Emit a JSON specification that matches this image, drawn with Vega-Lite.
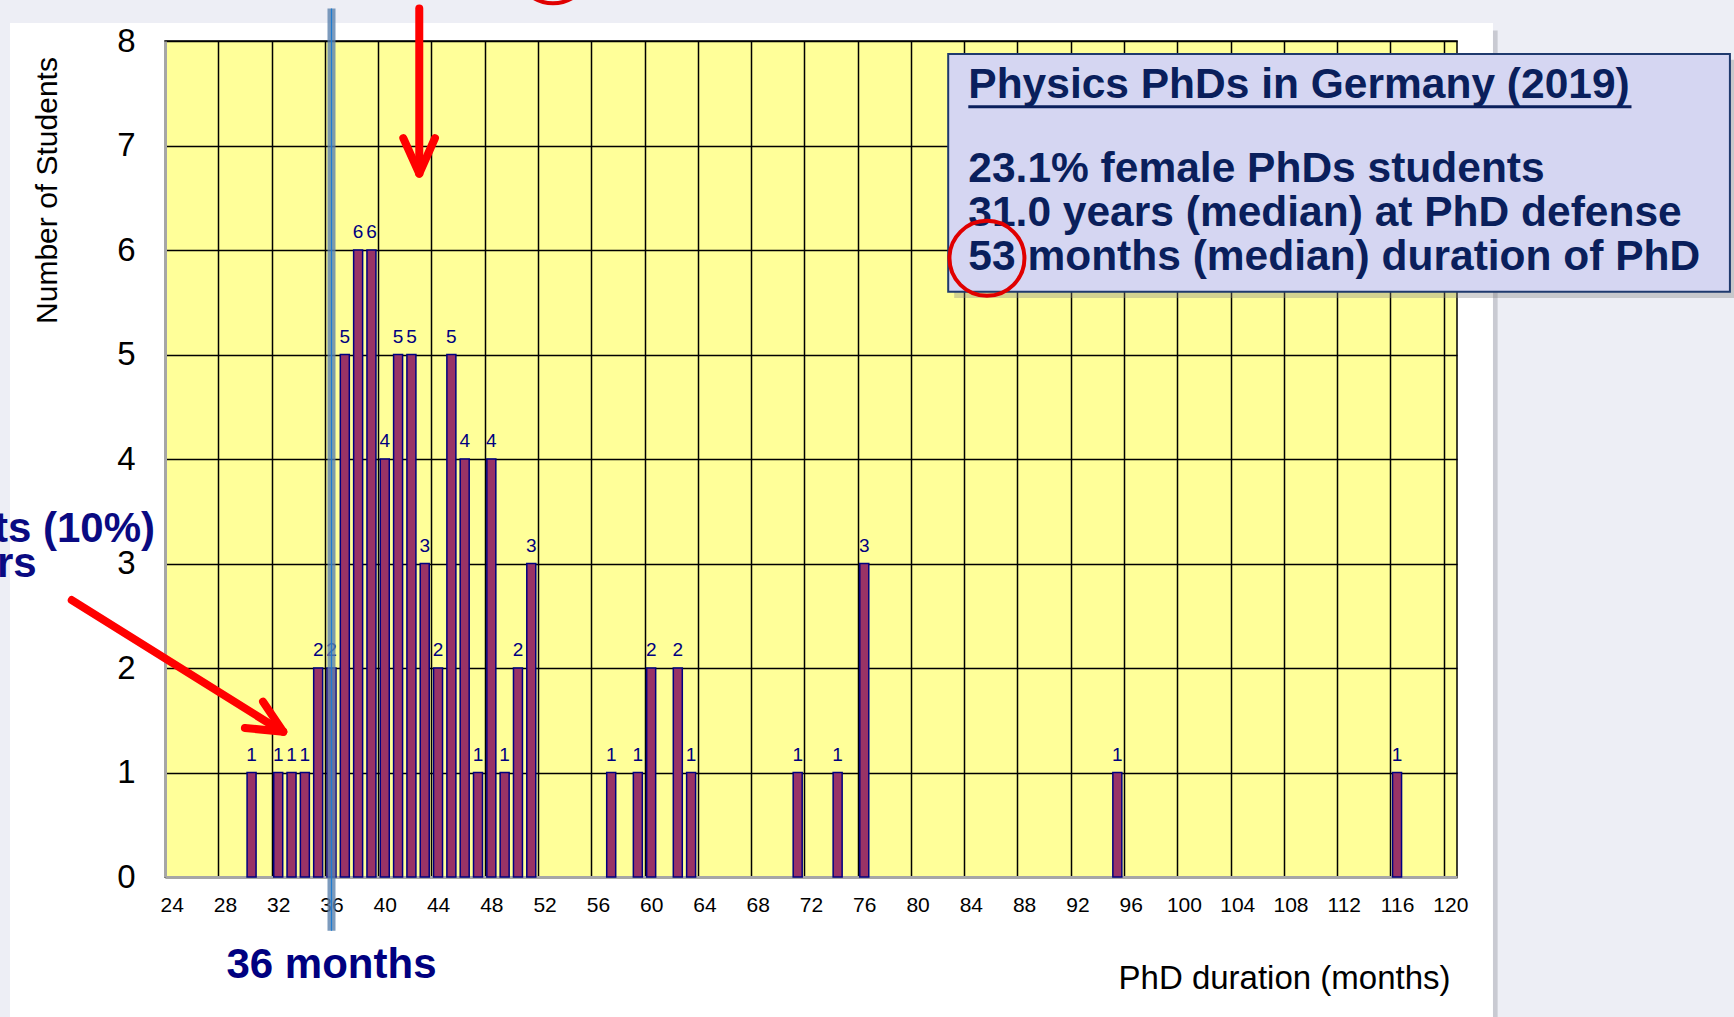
{
  "$schema": "https://vega.github.io/schema/vega-lite/v6.json",
  "width": 1292,
  "height": 836,
  "autosize": {"type": "none"},
  "padding": {"left": 165, "top": 41, "right": 277, "bottom": 140},
  "background": "#FFFFFF",
  "config": {
    "font": "Liberation Sans",
    "view": {"fill": "#FFFF99", "stroke": "#000000", "strokeWidth": 1.5}
  },
  "data": {
    "values": [
      {"month": 30, "count": 1},
      {"month": 32, "count": 1},
      {"month": 33, "count": 1},
      {"month": 34, "count": 1},
      {"month": 35, "count": 2},
      {"month": 36, "count": 2},
      {"month": 37, "count": 5},
      {"month": 38, "count": 6},
      {"month": 39, "count": 6},
      {"month": 40, "count": 4},
      {"month": 41, "count": 5},
      {"month": 42, "count": 5},
      {"month": 43, "count": 3},
      {"month": 44, "count": 2},
      {"month": 45, "count": 5},
      {"month": 46, "count": 4},
      {"month": 47, "count": 1},
      {"month": 48, "count": 4},
      {"month": 49, "count": 1},
      {"month": 50, "count": 2},
      {"month": 51, "count": 3},
      {"month": 57, "count": 1},
      {"month": 59, "count": 1},
      {"month": 60, "count": 2},
      {"month": 62, "count": 2},
      {"month": 63, "count": 1},
      {"month": 71, "count": 1},
      {"month": 74, "count": 1},
      {"month": 76, "count": 3},
      {"month": 95, "count": 1},
      {"month": 116, "count": 1}
    ]
  },
  "layer": [
    {
      "data": {"values": [{}]},
      "mark": {"type": "rect", "fill": "#EDEEF5"},
      "encoding": {"x": {"datum": -20}, "x2": {"datum": 11.86}, "y": {"datum": -2}, "y2": {"datum": 9}}
    },
    {
      "data": {"values": [{}]},
      "mark": {"type": "rect", "fill": "#EDEEF5"},
      "encoding": {"x": {"datum": -20}, "x2": {"datum": 150}, "y": {"datum": 8.172}, "y2": {"datum": 9}}
    },
    {
      "data": {"values": [{}]},
      "mark": {"type": "rect", "fill": "#EDEEF5"},
      "encoding": {"x": {"datum": 123.2}, "x2": {"datum": 150}, "y": {"datum": -2}, "y2": {"datum": 9}}
    },
    {
      "data": {"values": [{}]},
      "mark": {"type": "rect", "fill": "#C9CAD2"},
      "encoding": {"x": {"datum": 123.2}, "x2": {"datum": 123.55}, "y": {"datum": -2}, "y2": {"datum": 8.1}}
    },
    {
      "mark": {"type": "bar", "size": 9, "fill": "#993366", "stroke": "#000080", "strokeWidth": 1.5},
      "encoding": {
        "x": {
          "field": "month",
          "type": "quantitative",
          "scale": {"domain": [23.5, 120.5], "nice": false, "zero": false, "padding": 0},
          "axis": {
            "values": [23.5, 27.5, 31.5, 35.5, 39.5, 43.5, 47.5, 51.5, 55.5, 59.5, 63.5, 67.5, 71.5, 75.5, 79.5, 83.5, 87.5, 91.5, 95.5, 99.5, 103.5, 107.5, 111.5, 115.5, 119.5],
            "labelExpr": "format(datum.value + 0.5, 'd')",
            "labelOffset": 6.66,
            "labelFlush": false,
            "labelOverlap": false,
            "labelBound": false,
            "labelPadding": 17,
            "labelFontSize": 21,
            "labelColor": "#000000",
            "ticks": false,
            "grid": true,
            "gridColor": "#000000",
            "gridWidth": 1.5,
            "gridOpacity": 1,
            "domainColor": "#A6A6A6",
            "domainWidth": 3,
            "title": "PhD duration (months)",
            "titleFontSize": 33,
            "titleFontWeight": "normal",
            "titleColor": "#000000",
            "titleX": 1285,
            "titleY": 111,
            "titleAlign": "right",
            "titleBaseline": "alphabetic"
          }
        },
        "y": {
          "field": "count",
          "type": "quantitative",
          "scale": {"domain": [0, 8], "nice": false, "padding": 0},
          "axis": {
            "values": [0, 1, 2, 3, 4, 5, 6, 7, 8],
            "format": "d",
            "labelFontSize": 33,
            "labelColor": "#000000",
            "labelPadding": 30,
            "labelFlush": false,
            "ticks": false,
            "grid": true,
            "gridColor": "#000000",
            "gridWidth": 1.5,
            "gridOpacity": 1,
            "domainColor": "#A6A6A6",
            "domainWidth": 3,
            "title": "Number of Students",
            "titleFontSize": 30,
            "titleFontWeight": "normal",
            "titleColor": "#000000",
            "titleX": -117.5,
            "titleY": 149,
            "titleAngle": -90,
            "titleAlign": "center",
            "titleBaseline": "middle"
          }
        }
      }
    },
    {
      "mark": {"type": "text", "fontSize": 19, "color": "#000080", "baseline": "alphabetic", "dy": -12},
      "encoding": {
        "x": {"field": "month", "type": "quantitative"},
        "y": {"field": "count", "type": "quantitative"},
        "text": {"field": "count", "type": "quantitative"}
      }
    },
    {
      "data": {"values": [{}]},
      "mark": {"type": "rule", "color": "#5C82AD", "strokeWidth": 8, "opacity": 0.8},
      "encoding": {"x": {"datum": 36}, "y": {"datum": -0.514}, "y2": {"datum": 8.31}}
    },
    {
      "data": {"values": [{}]},
      "mark": {"type": "rule", "color": "#1E7BD0", "strokeWidth": 1.2},
      "encoding": {"x": {"datum": 36}, "y": {"datum": -0.514}, "y2": {"datum": 8.31}}
    },
    {
      "data": {"values": [{}]},
      "mark": {"type": "rule", "color": "#FF0000", "strokeWidth": 8, "strokeCap": "round"},
      "encoding": {"x": {"datum": 42.59}, "x2": {"datum": 42.59}, "y": {"datum": 8.31}, "y2": {"datum": 6.76}}
    },
    {
      "data": {"values": [{}]},
      "mark": {"type": "rule", "color": "#FF0000", "strokeWidth": 8, "strokeCap": "round"},
      "encoding": {"x": {"datum": 41.39}, "x2": {"datum": 42.59}, "y": {"datum": 7.07}, "y2": {"datum": 6.73}}
    },
    {
      "data": {"values": [{}]},
      "mark": {"type": "rule", "color": "#FF0000", "strokeWidth": 8, "strokeCap": "round"},
      "encoding": {"x": {"datum": 43.77}, "x2": {"datum": 42.59}, "y": {"datum": 7.07}, "y2": {"datum": 6.73}}
    },
    {
      "data": {"values": [{}]},
      "mark": {"type": "rule", "color": "#FF0000", "strokeWidth": 8, "strokeCap": "round"},
      "encoding": {"x": {"datum": 16.5}, "x2": {"datum": 32.2}, "y": {"datum": 2.65}, "y2": {"datum": 1.40}}
    },
    {
      "data": {"values": [{}]},
      "mark": {"type": "rule", "color": "#FF0000", "strokeWidth": 8, "strokeCap": "round"},
      "encoding": {"x": {"datum": 29.5}, "x2": {"datum": 32.38}, "y": {"datum": 1.426}, "y2": {"datum": 1.39}}
    },
    {
      "data": {"values": [{}]},
      "mark": {"type": "rule", "color": "#FF0000", "strokeWidth": 8, "strokeCap": "round"},
      "encoding": {"x": {"datum": 30.86}, "x2": {"datum": 32.38}, "y": {"datum": 1.678}, "y2": {"datum": 1.39}}
    },
    {
      "data": {"values": [{}]},
      "mark": {"type": "rect", "fill": "#808080", "opacity": 0.35},
      "encoding": {"x": {"datum": 82.75}, "x2": {"datum": 141.5}, "y": {"datum": 7.82}, "y2": {"datum": 5.54}}
    },
    {
      "data": {"values": [{}]},
      "mark": {"type": "rect", "fill": "#D5D6F2", "stroke": "#1F3A6E", "strokeWidth": 2},
      "encoding": {"x": {"datum": 82.3}, "x2": {"datum": 140.99}, "y": {"datum": 7.876}, "y2": {"datum": 5.601}}
    },
    {
      "data": {"values": [{}]},
      "mark": {
        "type": "text",
        "align": "left",
        "baseline": "alphabetic",
        "fontSize": 42.5,
        "fontWeight": "bold",
        "color": "#0A1F5C",
        "text": "Physics PhDs in Germany (2019)"
      },
      "encoding": {"x": {"datum": 83.81}, "y": {"datum": 7.453}}
    },
    {
      "data": {"values": [{}]},
      "mark": {
        "type": "text",
        "align": "left",
        "baseline": "alphabetic",
        "fontSize": 42.5,
        "fontWeight": "bold",
        "color": "#0A1F5C",
        "lineHeight": 44,
        "text": ["23.1% female PhDs students", "31.0 years (median) at PhD defense", "53 months (median) duration of PhD"]
      },
      "encoding": {"x": {"datum": 83.81}, "y": {"datum": 6.654}}
    },
    {
      "data": {"values": [{}]},
      "mark": {"type": "rule", "color": "#0A1F5C", "strokeWidth": 3},
      "encoding": {"x": {"datum": 83.81}, "x2": {"datum": 133.6}, "y": {"datum": 7.371}, "y2": {"datum": 7.371}}
    },
    {
      "data": {"values": [{}]},
      "mark": {"type": "point", "shape": "circle", "filled": false, "size": 5625, "stroke": "#E00000", "strokeWidth": 4, "opacity": 1},
      "encoding": {"x": {"datum": 85.21}, "y": {"datum": 5.92}}
    },
    {
      "data": {"values": [{}]},
      "mark": {"type": "point", "shape": "circle", "filled": false, "size": 5625, "stroke": "#E00000", "strokeWidth": 4, "opacity": 1},
      "encoding": {"x": {"datum": 52.63}, "y": {"datum": 8.72}}
    },
    {
      "data": {"values": [{}]},
      "mark": {"type": "text", "align": "center", "baseline": "alphabetic", "fontSize": 42, "fontWeight": "bold", "color": "#000080", "text": "36 months"},
      "encoding": {"x": {"datum": 36}, "y": {"datum": -0.969}}
    },
    {
      "data": {"values": [{}]},
      "mark": {"type": "text", "align": "right", "baseline": "alphabetic", "fontSize": 42, "fontWeight": "bold", "color": "#0A0A82", "text": "ts (10%)"},
      "encoding": {"x": {"datum": 22.75}, "y": {"datum": 3.209}}
    },
    {
      "data": {"values": [{}]},
      "mark": {"type": "text", "align": "right", "baseline": "alphabetic", "fontSize": 42, "fontWeight": "bold", "color": "#0A0A82", "text": "rs"},
      "encoding": {"x": {"datum": 13.87}, "y": {"datum": 2.874}}
    }
  ]
}
